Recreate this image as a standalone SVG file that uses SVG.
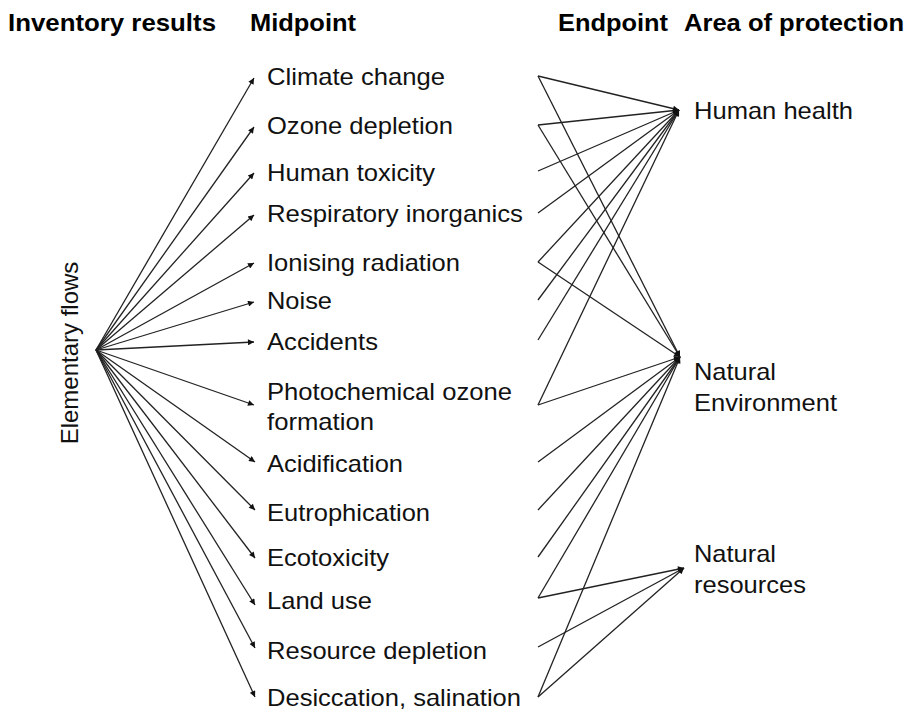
<svg xmlns="http://www.w3.org/2000/svg" width="910" height="713" viewBox="0 0 910 713">
<style>
.h{font-family:"Liberation Sans",Arial,sans-serif;font-weight:bold;font-size:24px;fill:#000}
.t{font-family:"Liberation Sans",Arial,sans-serif;font-size:24px;fill:#111}
.c line{stroke:#222;stroke-width:1.3;marker-end:url(#ah)}
</style>
<defs>
<marker id="ah" viewBox="0 0 10 10" refX="10" refY="5" markerWidth="8" markerHeight="6" markerUnits="userSpaceOnUse" orient="auto"><path d="M0,0 L10,5 L0,10 z" fill="#111"/></marker>
</defs>
<rect width="910" height="713" fill="#fff"/>
<g id="headings">
<text class="h" x="8" y="31" textLength="208" lengthAdjust="spacingAndGlyphs">Inventory results</text>
<text class="h" x="250" y="31" textLength="106" lengthAdjust="spacingAndGlyphs">Midpoint</text>
<text class="h" x="558" y="31" textLength="110" lengthAdjust="spacingAndGlyphs">Endpoint</text>
<text class="h" x="684" y="31" textLength="220" lengthAdjust="spacingAndGlyphs">Area of protection</text>
</g>
<g id="elementary-flows"><text class="t" text-anchor="middle" transform="translate(78,353) rotate(-90)">Elementary flows</text></g>
<g id="mid-climate"><text class="t" x="267" y="85" textLength="178" lengthAdjust="spacingAndGlyphs">Climate change</text></g>
<g id="mid-ozone"><text class="t" x="267" y="134" textLength="186" lengthAdjust="spacingAndGlyphs">Ozone depletion</text></g>
<g id="mid-humantox"><text class="t" x="267" y="181" textLength="168" lengthAdjust="spacingAndGlyphs">Human toxicity</text></g>
<g id="mid-resp"><text class="t" x="267" y="222" textLength="256" lengthAdjust="spacingAndGlyphs">Respiratory inorganics</text></g>
<g id="mid-ionising"><text class="t" x="267" y="271" textLength="193" lengthAdjust="spacingAndGlyphs">Ionising radiation</text></g>
<g id="mid-noise"><text class="t" x="267" y="309" textLength="65" lengthAdjust="spacingAndGlyphs">Noise</text></g>
<g id="mid-accidents"><text class="t" x="267" y="350" textLength="111" lengthAdjust="spacingAndGlyphs">Accidents</text></g>
<g id="mid-photo"><text class="t" x="267" y="400" textLength="245" lengthAdjust="spacingAndGlyphs">Photochemical ozone</text><text class="t" x="267" y="430" textLength="107" lengthAdjust="spacingAndGlyphs">formation</text></g>
<g id="mid-acid"><text class="t" x="267" y="472" textLength="136" lengthAdjust="spacingAndGlyphs">Acidification</text></g>
<g id="mid-eutro"><text class="t" x="267" y="521" textLength="163" lengthAdjust="spacingAndGlyphs">Eutrophication</text></g>
<g id="mid-ecotox"><text class="t" x="267" y="566" textLength="122" lengthAdjust="spacingAndGlyphs">Ecotoxicity</text></g>
<g id="mid-land"><text class="t" x="267" y="609" textLength="105" lengthAdjust="spacingAndGlyphs">Land use</text></g>
<g id="mid-resource"><text class="t" x="267" y="659" textLength="220" lengthAdjust="spacingAndGlyphs">Resource depletion</text></g>
<g id="mid-desic"><text class="t" x="267" y="706" textLength="254" lengthAdjust="spacingAndGlyphs">Desiccation, salination</text></g>
<g id="aop-hh"><text class="t" x="694" y="119" textLength="159" lengthAdjust="spacingAndGlyphs">Human health</text></g>
<g id="aop-ne"><text class="t" x="694" y="380" textLength="82" lengthAdjust="spacingAndGlyphs">Natural</text><text class="t" x="694" y="411" textLength="143" lengthAdjust="spacingAndGlyphs">Environment</text></g>
<g id="aop-nr"><text class="t" x="694" y="562" textLength="82" lengthAdjust="spacingAndGlyphs">Natural</text><text class="t" x="694" y="593" textLength="112" lengthAdjust="spacingAndGlyphs">resources</text></g>
<g id="connectors" class="c">
<line x1="96" y1="350" x2="254" y2="78"/>
<line x1="96" y1="350" x2="254" y2="127"/>
<line x1="96" y1="350" x2="254" y2="173"/>
<line x1="96" y1="350" x2="254" y2="215"/>
<line x1="96" y1="350" x2="254" y2="263"/>
<line x1="96" y1="350" x2="254" y2="302"/>
<line x1="96" y1="350" x2="254" y2="342"/>
<line x1="96" y1="350" x2="254" y2="405"/>
<line x1="96" y1="350" x2="255" y2="462"/>
<line x1="96" y1="350" x2="255" y2="510"/>
<line x1="96" y1="350" x2="255" y2="558"/>
<line x1="96" y1="350" x2="255" y2="605"/>
<line x1="96" y1="350" x2="255" y2="648"/>
<line x1="96" y1="350" x2="255" y2="697"/>
<line x1="538" y1="76" x2="679" y2="110"/>
<line x1="538" y1="125" x2="679" y2="110"/>
<line x1="538" y1="171" x2="679" y2="110"/>
<line x1="538" y1="213" x2="679" y2="110"/>
<line x1="538" y1="262" x2="679" y2="110"/>
<line x1="538" y1="300" x2="679" y2="110"/>
<line x1="538" y1="340" x2="679" y2="110"/>
<line x1="538" y1="405" x2="679" y2="110"/>
<line x1="538" y1="76" x2="680" y2="357"/>
<line x1="538" y1="125" x2="680" y2="357"/>
<line x1="538" y1="262" x2="680" y2="357"/>
<line x1="538" y1="405" x2="680" y2="357"/>
<line x1="538" y1="462" x2="680" y2="357"/>
<line x1="538" y1="510" x2="680" y2="357"/>
<line x1="538" y1="557" x2="680" y2="357"/>
<line x1="538" y1="598" x2="680" y2="357"/>
<line x1="538" y1="697" x2="680" y2="357"/>
<line x1="538" y1="598" x2="684" y2="568"/>
<line x1="538" y1="647" x2="684" y2="568"/>
<line x1="538" y1="697" x2="684" y2="568"/>
</g>
</svg>
